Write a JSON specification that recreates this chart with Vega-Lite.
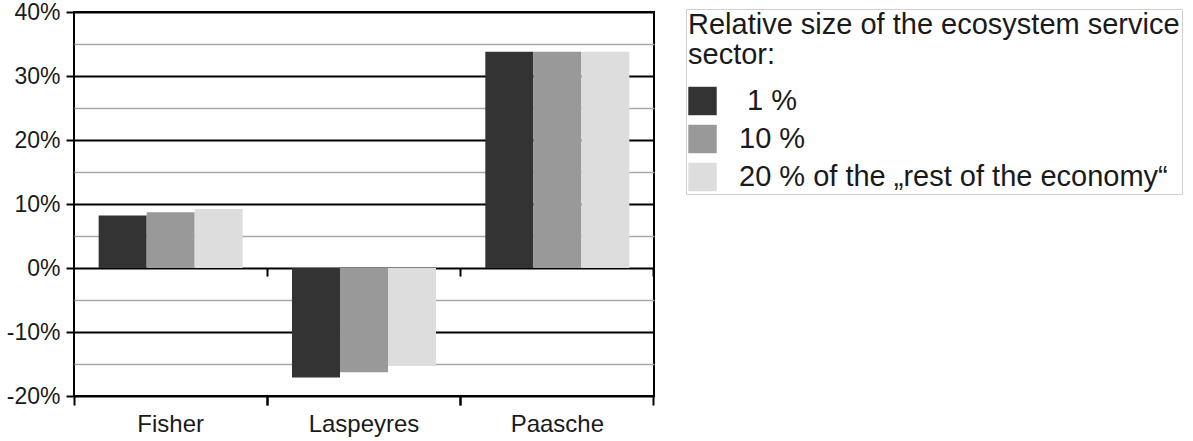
{
  "$schema": "https://vega.github.io/schema/vega-lite/v6.json",
  "autosize": "none",
  "width": 580,
  "height": 384,
  "padding": {"left": 74, "top": 12, "right": 539, "bottom": 45},
  "background": "white",
  "config": {
    "font": "Liberation Sans",
    "view": {"stroke": "#000000", "strokeWidth": 2}
  },
  "data": {
    "values": [
      {"index": "Fisher", "size": "1 %", "value": 8.2},
      {"index": "Fisher", "size": "10 %", "value": 8.7},
      {"index": "Fisher", "size": "20 % of the „rest of the economy“", "value": 9.2},
      {"index": "Laspeyres", "size": "1 %", "value": -17.1},
      {"index": "Laspeyres", "size": "10 %", "value": -16.3},
      {"index": "Laspeyres", "size": "20 % of the „rest of the economy“", "value": -15.3},
      {"index": "Paasche", "size": "1 %", "value": 33.8},
      {"index": "Paasche", "size": "10 %", "value": 33.8},
      {"index": "Paasche", "size": "20 % of the „rest of the economy“", "value": 33.8}
    ]
  },
  "resolve": {"axis": {"x": "independent"}},
  "layer": [
    {
      "mark": {"type": "bar"},
      "encoding": {
        "x": {
          "field": "index", "type": "nominal",
          "scale": {"paddingInner": 0.255, "paddingOuter": 0.1275},
          "axis": {"orient": "bottom", "title": null, "labelAngle": 0, "ticks": false, "domain": false, "grid": false,
                   "labelFontSize": 24, "labelColor": "#1a1a1a", "labelPadding": 16}
        },
        "xOffset": {
          "field": "size", "type": "nominal",
          "scale": {"paddingInner": 0, "paddingOuter": 0}
        },
        "y": {
          "field": "value", "type": "quantitative",
          "scale": {"domain": [-20, 40], "nice": false},
          "axis": {
            "title": null,
            "values": [-20, -15, -10, -5, 0, 5, 10, 15, 20, 25, 30, 35, 40],
            "labelExpr": "datum.value % 10 === 0 ? datum.value + '%' : ''",
            "labelFontSize": 23, "labelColor": "#1a1a1a", "labelPadding": 6,
            "domain": false,
            "tickSize": 8,
            "tickColor": {"condition": {"test": "datum.value % 10 === 0", "value": "#000000"}, "value": "rgba(0,0,0,0)"},
            "tickWidth": 2,
            "grid": true,
            "gridColor": {"condition": {"test": "datum.value % 10 === 0", "value": "#000000"}, "value": "#a6a6a6"},
            "gridWidth": {"condition": {"test": "datum.value % 10 === 0", "value": 2}, "value": 1.5},
            "gridOpacity": 1
          }
        },
        "color": {
          "field": "size", "type": "nominal",
          "scale": {"domain": ["1 %", "10 %", "20 % of the „rest of the economy“"], "range": ["#333333", "#999999", "#dddddd"]},
          "legend": {
            "orient": "none",
            "legendX": 612,
            "legendY": -3,
            "title": ["Relative size of the ecosystem service", "sector:"],
            "titleFontSize": 29,
            "titleFontWeight": "normal",
            "titleColor": "#1a1a1a",
            "titleLineHeight": 29.5,
            "titlePadding": 17,
            "titleLimit": 800,
            "labelFontSize": 29,
            "labelColor": "#1a1a1a",
            "labelOffset": 22,
            "labelLimit": 600,
            "labelExpr": "(datum.label === '1 %' || datum.value === '1 %') ? '\u200b\u00a01 %' : datum.label",
            "symbolType": "square",
            "symbolSize": 810,
            "symbolStrokeWidth": 0,
            "rowPadding": 8,
            "padding": 2,
            "strokeColor": "#d0d0d0",
            "fillColor": "white"
          }
        }
      }
    },
    {
      "mark": {"type": "bar", "opacity": 0},
      "encoding": {
        "x": {
          "field": "index", "type": "nominal",
          "axis": {"orient": "bottom", "title": null, "labels": false, "domain": false, "grid": false,
                   "bandPosition": -0.1711, "ticks": true, "tickSize": 9, "tickWidth": 2, "tickColor": "#000000"}
        }
      }
    },
    {
      "mark": {"type": "bar", "opacity": 0},
      "encoding": {
        "x": {
          "field": "index", "type": "nominal",
          "axis": {"orient": "bottom", "title": null, "labels": false, "domain": false, "grid": false,
                   "bandPosition": 1.1711, "ticks": true, "tickSize": 9, "tickWidth": 2, "tickColor": "#000000"}
        }
      }
    },
    {
      "mark": {"type": "bar", "opacity": 0},
      "encoding": {
        "x": {
          "field": "index", "type": "nominal",
          "axis": {"orient": "bottom", "title": null, "labels": false, "domain": false, "grid": false, "offset": -128,
                   "bandPosition": 1.1711, "ticks": true, "tickSize": 8, "tickWidth": 2, "tickColor": "#000000"}
        }
      }
    }
  ]
}
